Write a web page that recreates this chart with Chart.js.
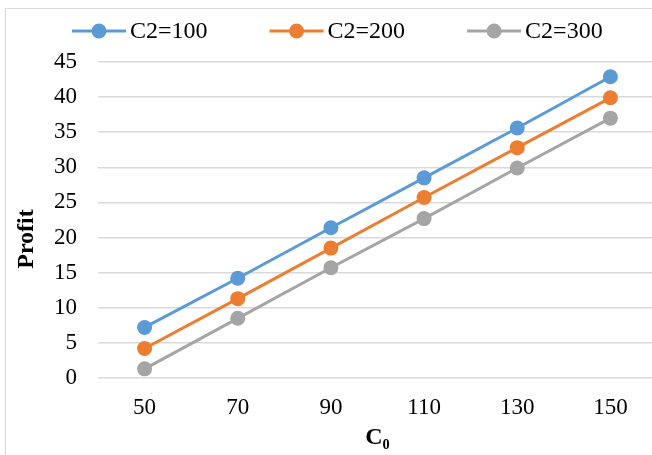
<!DOCTYPE html>
<html>
<head>
<meta charset="utf-8">
<script src="https://cdn.jsdelivr.net/npm/chart.js@4.4.1/dist/chart.umd.min.js"></script>
<style>
  html, body { margin: 0; padding: 0; background: #fff; overflow: hidden; width: 652px; height: 455px; }
  #wrap { position: absolute; left: 5px; top: 8px; width: 670px; height: 460px; border: 1px solid #d9d9d9; background: #fff; }
  canvas { display: block; }
</style>
</head>
<body>
<div id="wrap"><canvas id="c" width="670" height="460"></canvas></div>
<script>
const categories = ['50', '70', '90', '110', '130', '150'];
const seriesNames = ['C2=100', 'C2=200', 'C2=300'];
const c2_100 = [7.2, 14.2, 21.4, 28.5, 35.6, 42.9];
const c2_200 = [4.2, 11.3, 18.5, 25.7, 32.8, 39.9];
const c2_300 = [1.3, 8.5, 15.7, 22.7, 29.9, 37.0];
const colors = ['#5B9BD5', '#ED7D31', '#A5A5A5'];
const yTitle = 'Profit';
const xTitle = 'C₀';

const FONT = '"Liberation Serif", "Times New Roman", serif';

// Legend (line + circle marker + label) and rotated y-axis title
const extras = {
  id: 'extras',
  afterDraw(chart) {
    const ctx = chart.ctx;
    const ds = chart.data.datasets;
    ctx.save();
    ctx.font = '24px ' + FONT;
    const iconW = 54, gapText = 4, gapItem = 62;
    let x = 66;
    const y = 22;
    ds.forEach((d) => {
      ctx.strokeStyle = d.borderColor;
      ctx.lineWidth = 3;
      ctx.beginPath(); ctx.moveTo(x, y); ctx.lineTo(x + iconW, y); ctx.stroke();
      ctx.fillStyle = d.borderColor;
      ctx.beginPath(); ctx.arc(x + iconW / 2, y, 7.5, 0, Math.PI * 2); ctx.fill();
      ctx.fillStyle = '#000';
      ctx.textBaseline = 'middle';
      ctx.textAlign = 'left';
      ctx.fillText(d.label, x + iconW + gapText, y + 1);
      x += iconW + gapText + ctx.measureText(d.label).width + gapItem;
    });
    // y axis title
    ctx.translate(21, 230);
    ctx.rotate(-Math.PI / 2);
    ctx.font = 'bold 24px ' + FONT;
    ctx.textAlign = 'center';
    ctx.textBaseline = 'middle';
    ctx.fillStyle = '#000';
    ctx.fillText(yTitle, 0, 0);
    ctx.restore();
  }
};

new Chart(document.getElementById('c'), {
  type: 'line',
  data: {
    labels: categories,
    datasets: [c2_100, c2_200, c2_300].map((vals, i) => ({
      label: seriesNames[i],
      data: vals,
      borderColor: colors[i],
      backgroundColor: colors[i],
      borderWidth: 3,
      pointRadius: 7.5,
      pointHoverRadius: 7.5,
      pointBorderWidth: 0,
      pointStyle: 'circle',
      tension: 0
    }))
  },
  plugins: [extras],
  options: {
    responsive: false,
    animation: false,
    layout: { padding: { top: 53, right: 19, bottom: 0, left: 0 } },
    plugins: {
      tooltip: { enabled: false },
      legend: { display: false }
    },
    scales: {
      x: {
        offset: true,
        grid: { display: false, drawTicks: false },
        border: { display: false },
        ticks: { color: '#000', font: { family: FONT, size: 23 }, padding: 16, autoSkip: false, maxRotation: 0 },
        title: { display: true, text: xTitle, color: '#000', font: { family: FONT, size: 24, weight: 'bold' }, padding: { top: 0, bottom: 17 } },
        afterFit(scale) { scale.height = 91; }
      },
      y: {
        min: 0, max: 45,
        grid: { color: '#d9d9d9', lineWidth: 1.5, drawTicks: false },
        border: { display: false },
        ticks: { stepSize: 5, color: '#000', font: { family: FONT, size: 23 }, padding: 21, autoSkip: false },
        afterFit(scale) { scale.width = 92; }
      }
    }
  }
});
</script>
</body>
</html>
